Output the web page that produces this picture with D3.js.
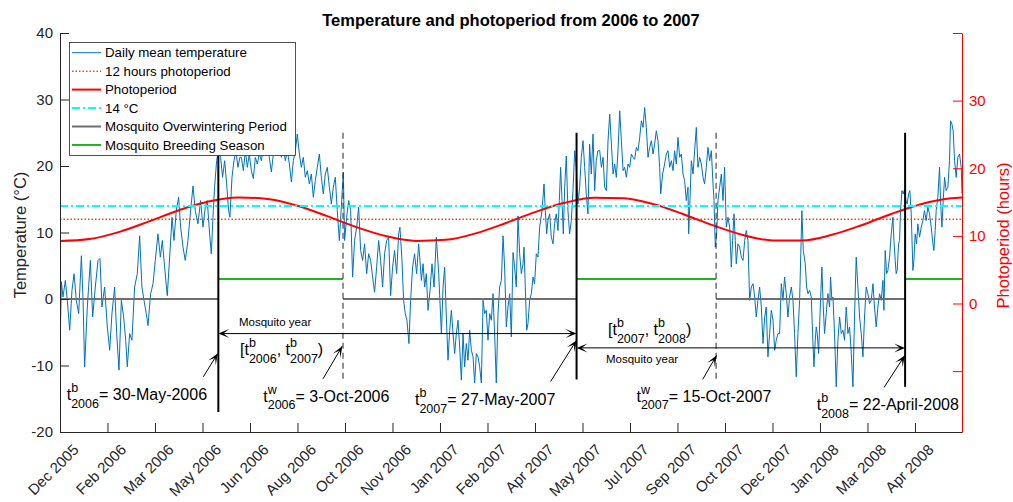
<!DOCTYPE html>
<html><head><meta charset="utf-8">
<script src="https://cdn.jsdelivr.net/npm/d3@7"></script>
<style>
body{margin:0;background:#fff}
svg{display:block}
text{font-family:"Liberation Sans",Arial,Helvetica,sans-serif}
</style>
</head><body>
<svg id="c" width="1013" height="502"></svg>
<script>
// ---------------- data ----------------
const tempDays = [
0,1.4,3,5.4,7.4,9.8,12.1,14.2,16.5,18.9,21.6,23.3,24.9,27.6,30.7,33,35.7,38.4,40.4,42.4,45.1,47.8,50.2,52.5,55.2,57.3,59.6,62,64.3,66.4,68,70.4,72.7,75.4,78.1,80.5,82.8,84.9,87.2,88.9,91.6,94,96.3,99,101.4,103.4,105.7,108.4,110.8,113.2,115.2,117.5,119.9,121.9,124.3,126.6,129.3,132,134.4,136.7,139.4,142.1,144.5,146.8,148.8,151.2,152.9,154.9,156.2,158.3,160,162.3,164.3,166.4,168.4,170.4,171.7,173.8,175.8,177.8,179.8,181.8,
183.3,185.3,187.3,189.3,191.3,193.4,195.4,197.4,199.4,201.4,203.5,205.5,207.5,209.5,211.5,213.6,215.6,217.6,219.6,221.7,223.7,225.7,227.7,229.7,231.8,233.8,235.8,237.8,239.8,241.9,243.9,245.9,247.9,249.9,252,254,256,258,260,262.1,264.1,266.1,268.1,270.1,272.2,274.2,276.2,278.2,280.2,282.3,284.3,286.3,287.6,289.7,291.7,293.7,295.7,297.7,299.8,301.8,303.8,305.8,307.8,309.9,311.9,313.9,315.9,317.9,320,322,324,326,328,330.1,332.1,334.1,336.1,338.1,340.2,342.2,343.5,345.6,347.2,348.9,350.6,352.6,354.3,356.3,358.3,360.4,362.4,
363.5,365.2,366.9,368.5,370.2,371.9,373.9,375.9,378,380.3,382.7,385.4,387.1,388.7,390.4,392.1,393.8,395.5,397.2,398.8,400.5,402.2,403.9,405.6,407.3,408.9,410.6,412.3,414,415.7,417.4,419,420.7,422.4,424.1,425.8,427.5,429.1,430.8,432.5,434.2,435.9,437.6,439.2,440.9,442.6,444.3,446,447.7,449.3,451,452.7,454.4,456.1,457.8,459.4,461.1,462.8,464.5,466.2,467.9,468.9,470.2,471.6,472.9,474.6,476.3,478,479.6,481.3,483,484.7,487.1,489.1,490.4,491.8,493.1,494.8,496.5,498.2,499.8,501.5,503.2,504.6,505.9,507.3,508.6,510,511.6,513.3,515,516.7,518.4,520.1,521.7,523.4,525.1,526.8,528.5,530.2,531.8,533.5,535.2,536.9,538.6,540.3,541.9,543.6,
545.4,547.1,548.8,550.4,552.1,553.8,555.5,557.2,558.9,560.5,562.2,563.9,565.6,567.3,569,570.6,572.3,574,575.7,577.4,579.1,580.7,582.4,584.1,585.8,587.5,589.2,590.8,592.5,594.2,595.9,597.6,599.3,600.9,602.6,604.3,606,607,609,611,612.7,614.4,616.1,617.8,619.5,621.1,622.8,624.5,626.2,627.9,629.6,631.2,632.9,634.6,635.3,636.6,638,639.7,641.3,643,644.7,646.4,648.1,649.8,651.4,653.1,654.8,656.5,658.2,659.9,660.9,662.2,663.6,664.9,666.6,668.3,670,671.6,673.3,675,676.7,678.4,679.7,681.1,682.4,683.4,685.1,686.8,688.5,690.2,691.9,693.5,695.2,696.9,698.6,700.3,702,703.6,705.3,707,708.7,710.4,712.1,713.7,715.4,717.1,718.8,720.5,722.2,723.8,725.5,
727.2,728.9,730.6,732.2,733.9,735.6,737.3,739,740.7,742.3,744,745.7,747.4,749.7,751.1,753.1,754.5,755.8,757.5,759.2,760.5,761.9,763.2,764.2,765.2,766.6,768.3,769.9,771.3,772.6,774.3,776,777.7,778.7,780,781.1,782.7,784.4,786.1,787.8,789.5,791.2,792.8,794.5,796.2,797.9,799.6,801.3,802.9,804.6,806.3,808,809.7,811.4,813,814.7,816.4,818.1,819.8,821.5,823.1,824.8,826.5,828.2,829.9,831.6,832.6,833.9,835.3,836.6,838.3,840,841.7,842.7,844,845,846,847.4,848.4,849.4,850.8,852.1,853.4,854.8,856.1,857.5,858.8,860.2,861.9,862.9,864.2,865.6,866.9,868.6,870.3,872,873.6,875.3,877,878.7,880.4,882.1,883.1,884.4,885.4,887.1,888.8,889.8,891.2,892.5,893.9,895.5,897.2,898.9,899.9,901.3,902.6,904,905.6,907.3,909,910.7,911.5
];
const tempValues = [
-7.7,2.6,0.3,2.8,-0.2,-4.7,1.3,3.8,-0.2,-2.2,6.5,-0.2,-10.2,-1.2,5.8,-2.7,1.8,5.8,6.1,-1.2,1.8,-4.2,-7.7,-2.2,1.8,-5.2,-10.7,-0.2,-2.7,-6.2,-10.2,-5.2,-6.2,1.8,3.8,9.5,1.8,-0.2,-2.2,-4,0.8,2.3,5.8,9.8,6.3,8.8,4.8,0.5,6.3,12.3,8.8,13.3,15.3,10.8,7.8,5.8,8.8,13.3,17,13.3,11.3,14.8,10.8,13.8,14.8,9.8,6.8,13.3,16.8,20.8,22.3,21.3,18.3,20.8,17.3,13.3,12.3,18.3,20.8,22.3,19.8,21.3,
21.3,19.3,22.3,19.8,21.8,19.3,18.1,21.3,20.3,21.8,20.8,22.8,21.8,23.3,21.3,19.1,21.8,23.3,22.3,23.8,21.3,22.8,20.8,22.3,20.3,17.6,20.8,22.3,24.8,21.8,19.8,21.3,18.3,19.3,17.3,18.8,15.3,17.8,19.8,21.8,18.3,15.8,18.8,19.8,16.8,14.3,16.8,18.3,13.3,8.8,13.8,19.1,8.8,12.3,14.8,13.3,3.3,8.8,10.8,13.8,7.3,5.8,8.3,3.8,6.8,5.8,3.3,1,4.8,8.8,5.8,1.8,6.8,8.8,9.3,0.5,4.8,7.3,3.8,9.8,10.8,5.8,-0.2,-2.2,-3.2,-6.7,-0.2,4.8,6.8,3.8,8.3,
6.3,2.8,5.3,1.8,3.8,-1.7,1.3,5.3,1.8,9.3,3.8,-5.2,1.8,4.8,-2.7,-9.2,-4.7,-1.7,-5.2,-8.2,-5.2,-3.2,-7.2,-12.2,-5.2,-10.2,-6.7,-9.2,-4.7,-7.7,-8.7,-12.7,-8.2,-8.7,-10.2,-12.7,-0.2,-2.2,-1.7,-6.2,-2.2,-3.2,0.8,-5.2,-12.7,-2.2,1.8,2.8,9.5,4.8,-4.2,-1.2,0.8,-5.7,7,4.8,1.8,12.5,6.8,3.8,5.3,7.8,1.8,-4.7,-3.7,-0.2,0.8,3.3,2.3,6.8,6.3,10.8,13.3,17.3,13.3,9.8,11.8,12.8,9.3,8.3,11.3,12.8,10.3,14.8,19.8,14.8,9.8,16.8,21.5,13.3,9.8,11.8,16.3,22.3,19.8,14.3,16.8,21.3,23.8,19.8,15.8,12.8,23.3,18.8,24.8,16.3,20.8,22.3,
22.3,19.8,21.3,16.8,16.3,23.8,27.8,23.3,18.8,20.3,18.3,22.3,28.3,23.8,19.3,19.8,18.3,20.3,19.8,21.8,21.3,21,22.8,22.3,24.3,26.8,25.8,28.8,25.8,21.3,22.8,23.8,21.8,23.3,25.3,23.8,19.8,15.8,18.8,20.3,21.8,22.3,19.8,20.8,19.3,22.3,20.3,24.3,21.3,21.8,18.8,17.8,14.8,16.8,9.8,14.8,20.8,18.8,22.3,25.8,19.8,21.3,20.3,18.3,17.3,19.8,22.8,20.8,22.3,17.3,14.8,7.8,9.8,14.8,16.8,18.8,14.8,19.8,10.8,12.3,10.8,4.8,8.8,12.8,8.8,5.3,8.3,7.8,6.3,5.8,8.8,10.3,8.8,-0.2,1.8,2.3,0.3,-2.7,-0.2,1.8,-1.2,-6.7,-2.7,-1.2,-8.7,-5.2,-1.7,-3.2,-7.7,-6.2,-5.2,
-5.2,2.3,-0.2,3.3,0.8,-2.7,0.3,1.8,-0.2,-5.2,-11.7,-5.2,-0.2,13.3,7.3,5.3,1.8,0.8,1.3,0.3,-5.2,-10.2,-6.2,-4.2,-5.2,-8.2,-1.2,4.8,-1.2,-5.2,-2.2,0.8,-1.2,3.3,-0.2,0.3,-5.2,-13.2,-6.2,-2.7,-5.2,-4.7,-6.2,-1.2,-5.2,-4.2,-8.2,-13.2,-2.7,6.3,1.8,-2.7,-5.2,-8.7,-2.7,1.8,0.8,-0.7,-0.2,2.3,-1.2,-4.2,-1.2,0.8,-0.2,2.8,-1.7,7.3,3.8,4.3,6.3,9.8,12.3,8.8,5.8,3.8,4.3,8.3,8.8,13.3,16.3,15.8,16.5,14.8,14.3,15.8,16.3,12.8,4.3,5.8,9.8,8.3,11.3,9.3,10.8,11.8,13.3,11.8,13.8,12.8,10.8,8.3,7.3,10.3,13.3,15.3,19.8,14.8,10.8,14.8,18.3,16.3,16.8,20.8,26.8,26.3,25.3,20.8,18.3,21.3,21.8,19.8,15.8
];
const photoDays = [0,30,60,90,120,150,180,210,240,270,300,330,360,390,420,450,480,510,540,570,600,630,660,690,720,750,780,810,840,870,900,911.5];
const photoHours = [8.71,9.01,10.09,11.67,13.34,14.65,15.28,15.05,14.02,12.46,10.79,9.44,8.74,8.90,9.87,11.39,13.07,14.47,15.23,15.15,14.24,12.75,11.07,9.63,8.81,8.81,9.65,11.10,12.79,14.26,15.15,15.28];

const tickDays = [0,48,96,144,192,240,288,336,384,432,480,528,576,624,672,720,768,816,864];
const tickLabels = ["Dec 2005","Feb 2006","Mar 2006","May 2006","Jun 2006","Aug 2006","Oct 2006","Nov 2006","Jan 2007","Feb 2007","Apr 2007","May 2007","Jul 2007","Sep 2007","Oct 2007","Dec 2007","Jan 2008","Mar 2008","Apr 2008"];
const leftTicks = [-20,-10,0,10,20,30,40];
const rightTicks = [-10,0,10,20,30,40];
const rightTickLabels = ["","0","10","20","30",""];

const photoThreshold = 12;      // hours
const tempThreshold = 14;       // degC
const overwinterLevel = 0;
const breedingLevel = 3;
const overwinterSegments = [[0,160],[286,522],[663,854]];
const breedingSegments = [[160,286],[522,663],[854,911.5]];
const breedStartDays = [160,522,854];
const breedLineBottoms = [-17,-12.1,-13.2];
const winterStartDays = [286,663];
const winterLineBottoms = [-12.2,-12.2];
const markerTop = 25;

const yearArrows = [[160,522,-5.2],[522,854,-7.35]];
const pointerArrows = [[144.8,-11.7,159.4,-8.2],[265.8,-12.0,285.2,-7.1],[495.8,-12.4,522,-6.2],[649.4,-12.1,663.4,-8.5],[832.7,-13.3,853.7,-8.5]];
const eventLabels = [
  {day:6.8,   t:-15.23, sup:"b", sub:"2006", post:"= 30-May-2006"},
  {day:205.4, t:-15.49, sup:"w", sub:"2006", post:"= 3-Oct-2006"},
  {day:358.7, t:-15.98, sup:"b", sub:"2007", post:"= 27-May-2007"},
  {day:582.5, t:-15.49, sup:"w", sub:"2007", post:"= 15-Oct-2007"},
  {day:764.7, t:-16.74, sup:"b", sub:"2008", post:"= 22-April-2008"}
];
const intervalLabels = [
  {day:181.9, t:-8.47, a:"2006", b:"2007"},
  {day:553.8, t:-5.46, a:"2007", b:"2008"}
];
const yearLabels = [[180.9,-4.1],[551.7,-9.67]];

const legendItems = [
  {label:"Daily mean temperature", color:"#0072bd", w:1, dash:null},
  {label:"12 hours photoperiod", color:"#d95319", w:1.5, dash:"1.5,2"},
  {label:"Photoperiod", color:"#ff0000", w:2, dash:null},
  {label:"14 °C", color:"#00ffff", w:2, dash:"8,3,2,3"},
  {label:"Mosquito Overwintering Period", color:"#6e6e6e", w:2, dash:null},
  {label:"Mosquito Breeding Season", color:"#1fb31f", w:2, dash:null}
];

// ---------------- chart ----------------
const svg = d3.select("#c");
const x = d3.scaleLinear().domain([0, 911.5]).range([60, 962]);
const yL = d3.scaleLinear().domain([-20, 40]).range([432, 33]);
const yR = d3.scaleLinear().domain([-19, 40]).range([432, 33]);
const axisColor = "#262626";

svg.append("defs").append("clipPath").attr("id","clip")
  .append("rect").attr("x",60).attr("y",33).attr("width",902).attr("height",399);
const plot = svg.append("g").attr("clip-path","url(#clip)");

// temperature
plot.append("path").datum(d3.range(tempDays.length))
  .attr("d", d3.line().x(i=>x(tempDays[i])).y(i=>yL(tempValues[i])))
  .attr("fill","none").attr("stroke","#0072bd").attr("stroke-width",1).attr("stroke-linejoin","round");

// 12h dotted
const xd = x.domain();
plot.append("line").attr("x1",x(xd[0])).attr("x2",x(xd[1])).attr("y1",yL(photoThreshold)).attr("y2",yL(photoThreshold))
  .attr("stroke","#d95319").attr("stroke-width",1.5).attr("stroke-dasharray","1.5,2");
// photoperiod
plot.append("path").datum(d3.range(photoDays.length))
  .attr("d", d3.line().curve(d3.curveMonotoneX).x(i=>x(photoDays[i])).y(i=>yL(photoHours[i])))
  .attr("fill","none").attr("stroke","#ff0000").attr("stroke-width",2);
// 14 C
plot.append("line").attr("x1",x(xd[0])).attr("x2",x(xd[1])).attr("y1",yL(tempThreshold)).attr("y2",yL(tempThreshold))
  .attr("stroke","#00ffff").attr("stroke-width",2).attr("stroke-dasharray","8,3,2,3");
// overwinter / breeding
overwinterSegments.forEach(s=>{
  plot.append("line").attr("x1",x(s[0])).attr("x2",x(s[1])).attr("y1",yL(overwinterLevel)).attr("y2",yL(overwinterLevel))
    .attr("stroke","#6e6e6e").attr("stroke-width",2);
});
breedingSegments.forEach(s=>{
  plot.append("line").attr("x1",x(s[0])).attr("x2",x(s[1])).attr("y1",yL(breedingLevel)).attr("y2",yL(breedingLevel))
    .attr("stroke","#1fb31f").attr("stroke-width",2);
});
// vertical markers
breedStartDays.forEach((d,i)=>{
  svg.append("line").attr("x1",x(d)).attr("x2",x(d)).attr("y1",yL(breedLineBottoms[i])).attr("y2",yL(markerTop))
    .attr("stroke","#000").attr("stroke-width",2);
});
winterStartDays.forEach((d,i)=>{
  svg.append("line").attr("x1",x(d)).attr("x2",x(d)).attr("y1",yL(markerTop)).attr("y2",yL(winterLineBottoms[i]))
    .attr("stroke","#262626").attr("stroke-width",1).attr("stroke-dasharray","6,4");
});

// arrows
const ann = svg.append("g");
function head(g, x1,y1,x2,y2){
  const dx=x2-x1, dy=y2-y1, L=Math.hypot(dx,dy), ux=dx/L, uy=dy/L, px=-uy, py=ux;
  const hl=11, hw=4.5, notch=5;
  g.append("path").attr("d",`M${x2},${y2}L${x2-hl*ux+hw*px},${y2-hl*uy+hw*py}L${x2-notch*ux},${y2-notch*uy}L${x2-hl*ux-hw*px},${y2-hl*uy-hw*py}Z`)
    .attr("fill","#000");
}
yearArrows.forEach(a=>{
  const x1=x(a[0]), x2=x(a[1]), y=yL(a[2]);
  ann.append("line").attr("x1",x1+4).attr("x2",x2-4).attr("y1",y).attr("y2",y).attr("stroke","#000").attr("stroke-width",1);
  head(ann, x2, y, x1, y);
  head(ann, x1, y, x2, y);
});
pointerArrows.forEach(a=>{
  const x1=x(a[0]), y1=yL(a[1]), x2=x(a[2]), y2=yL(a[3]);
  ann.append("line").attr("x1",x1).attr("y1",y1).attr("x2",x2).attr("y2",y2).attr("stroke","#000").attr("stroke-width",1);
  head(ann, x1,y1,x2,y2);
});

// TeX-like labels
const mainSize=16, smallSize=12.5, supShift=8.3, subShift=7.3;
function texLabel(parent, px, py, pieces, bg){
  const g = parent.append("g");
  let cx = px;
  pieces.forEach(p=>{
    if (typeof p === "string"){
      const t = g.append("text").attr("x",cx).attr("y",py).attr("font-size",mainSize).attr("fill","#000").text(p);
      cx += t.node().getComputedTextLength();
    } else {
      let w=0;
      const s = g.append("text").attr("x",cx).attr("y",py-supShift).attr("font-size",smallSize).attr("fill","#000").text(p.sup);
      w = Math.max(w, s.node().getComputedTextLength());
      const b = g.append("text").attr("x",cx).attr("y",py+subShift).attr("font-size",smallSize).attr("fill","#000").text(p.sub);
      w = Math.max(w, b.node().getComputedTextLength());
      cx += w;
    }
  });
  if (bg){
    const bb = g.node().getBBox();
    g.insert("rect",":first-child").attr("x",bb.x-3).attr("y",bb.y-3).attr("width",bb.width+6).attr("height",bb.height+5).attr("fill","#fff");
  }
  return g;
}
eventLabels.forEach(e=>{
  texLabel(ann, x(e.day), yL(e.t), ["t",{sup:e.sup,sub:e.sub},e.post], true);
});
intervalLabels.forEach(e=>{
  texLabel(ann, x(e.day), yL(e.t), ["[t",{sup:"b",sub:e.a},", t",{sup:"b",sub:e.b},")"], false);
});
yearLabels.forEach(e=>{
  ann.append("text").attr("x",x(e[0])).attr("y",yL(e[1])).attr("font-size",11.5).attr("fill","#000").text("Mosquito year");
});

// axes
const gl = svg.append("g").attr("transform","translate(60,0)")
  .call(d3.axisLeft(yL).tickValues(leftTicks).tickFormat(d=>String(d)).tickSize(-9).tickSizeOuter(0).tickPadding(7));
gl.select(".domain").attr("stroke",axisColor);
gl.selectAll(".tick line").attr("stroke",axisColor);
gl.selectAll(".tick text").attr("fill",axisColor).attr("font-size",15).style("font-family","'Liberation Sans',Arial,sans-serif");

const gb = svg.append("g").attr("transform","translate(0,432)")
  .call(d3.axisBottom(x).tickValues(tickDays).tickFormat((d,i)=>tickLabels[i]).tickSize(-9).tickSizeOuter(0));
gb.select(".domain").attr("stroke",axisColor);
gb.selectAll(".tick line").attr("stroke",axisColor);
gb.selectAll(".tick text").attr("fill",axisColor).attr("font-size",15).style("font-family","'Liberation Sans',Arial,sans-serif")
  .attr("x",0).attr("y",0).attr("dy","0.35em").attr("text-anchor","end")
  .attr("transform","translate(15.4,15) rotate(-45)");

const gr = svg.append("g").attr("transform","translate(962,0)")
  .call(d3.axisRight(yR).tickValues(rightTicks).tickFormat((d,i)=>rightTickLabels[i]).tickSize(-9).tickSizeOuter(0).tickPadding(7));
gr.select(".domain").attr("stroke","#ff0000");
gr.selectAll(".tick line").attr("stroke","#ff0000");
gr.selectAll(".tick text").attr("fill","#ff0000").attr("font-size",15).style("font-family","'Liberation Sans',Arial,sans-serif");

// labels
svg.append("text").attr("x",511).attr("y",26).attr("text-anchor","middle").attr("font-size",16.5).attr("font-weight","bold").attr("fill","#000")
  .text("Temperature and photoperiod from 2006 to 2007");
svg.append("text").attr("transform","translate(26,235) rotate(-90)").attr("text-anchor","middle").attr("font-size",16.5).attr("fill",axisColor)
  .text("Temperature (°C)");
svg.append("text").attr("transform","translate(1009,235.5) rotate(-90)").attr("text-anchor","middle").attr("font-size",16.5).attr("fill","#ff0000")
  .text("Photoperiod (hours)");

// legend
const lg = svg.append("g");
lg.append("rect").attr("x",69.5).attr("y",42.5).attr("width",226).attr("height",113).attr("fill","#fff").attr("stroke",axisColor).attr("stroke-width",0.8);
legendItems.forEach((it,i)=>{
  const cy = 52.7 + i*18.45;
  lg.append("line").attr("x1",72).attr("x2",101).attr("y1",cy).attr("y2",cy).attr("stroke",it.color).attr("stroke-width",it.w)
    .attr("stroke-dasharray",it.dash);
  lg.append("text").attr("x",105).attr("y",cy).attr("dy","0.35em").attr("font-size",13.3).attr("fill","#000").text(it.label);
});
</script>
</body></html>
